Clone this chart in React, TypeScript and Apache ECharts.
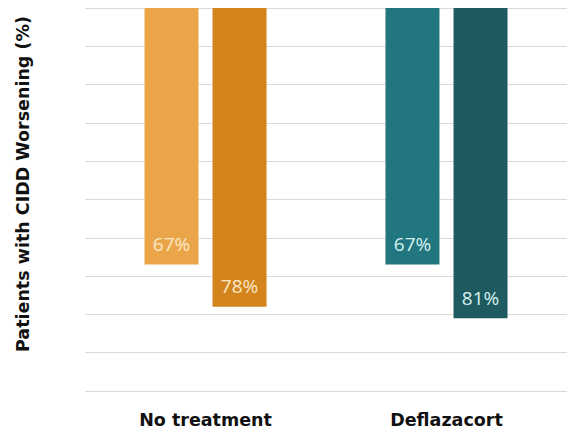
import React, { useEffect, useRef } from "react";
import * as echarts from "echarts";

const categories = ["No treatment", "Deflazacort"];
const firstBarValues = [67, 67];
const secondBarValues = [78, 81];
const firstBarColors = ["#E9A548", "#22767F"];
const secondBarColors = ["#D4841C", "#1F5A61"];
const labelColors = ["#FBE9C8", "#D9F1F1"];
const yTicks = { min: 0, max: 100, interval: 10 };
const yTitle = "Patients with CIDD Worsening (%)";

export default function App() {
  const ref = useRef<HTMLDivElement>(null);

  useEffect(() => {
    document.body.style.margin = "0";
    if (!ref.current) return;
    const chart = echarts.init(ref.current, null, { renderer: "svg" });
    const bodyFont = "'Open Sans', sans-serif";
    const titleFont = "'DejaVu Sans', sans-serif";

    const makeData = (values: number[], colors: string[]) =>
      values.map((v, i) => ({
        value: v,
        itemStyle: { color: colors[i] },
        label: { color: labelColors[i] },
      }));

    const label = {
      show: true,
      position: "insideBottom" as const,
      distance: 11,
      formatter: "{c}%",
      fontSize: 19,
      fontFamily: bodyFont,
    };

    chart.setOption({
      animation: false,
      backgroundColor: "#ffffff",
      grid: { left: 85, right: 2, top: 8, bottom: 45 },
      xAxis: {
        type: "category",
        data: categories,
        axisLine: { show: false },
        axisTick: { show: false },
        axisLabel: {
          color: "#111",
          fontWeight: "bold",
          fontSize: 17.5,
          fontFamily: titleFont,
          margin: 20,
        },
      },
      yAxis: {
        type: "value",
        inverse: true,
        min: yTicks.min,
        max: yTicks.max,
        interval: yTicks.interval,
        axisLabel: { show: false },
        axisLine: { show: false },
        axisTick: { show: false },
        splitLine: { lineStyle: { color: "#d9d9d9", width: 1 } },
      },
      graphic: [
        {
          type: "text",
          x: 23,
          y: 184,
          rotation: Math.PI / 2,
          style: {
            text: yTitle,
            fill: "#111",
            font: `bold 17.5px ${titleFont}`,
            align: "center",
            verticalAlign: "middle",
          },
        },
      ],
      series: [
        {
          type: "bar",
          data: makeData(firstBarValues, firstBarColors),
          barWidth: 54,
          barGap: "26%",
          label,
        },
        {
          type: "bar",
          data: makeData(secondBarValues, secondBarColors),
          barWidth: 54,
          barGap: "26%",
          label,
        },
      ],
    });

    return () => chart.dispose();
  }, []);

  return <div ref={ref} style={{ width: 569, height: 436 }} />;
}
